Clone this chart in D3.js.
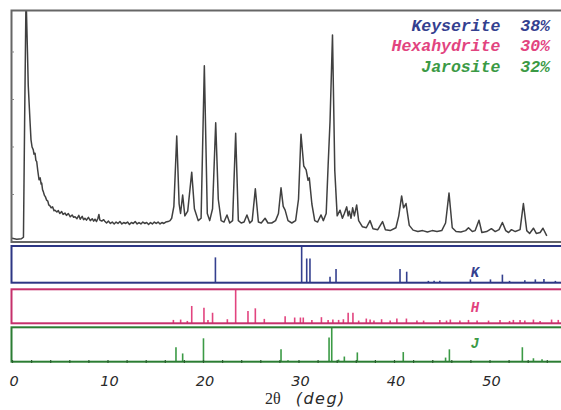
<html>
<head>
<meta charset="utf-8">
<style>
  body { margin: 0; background: #fff; }
  svg { display: block; }
</style>
</head>
<body>
<div id="chartContainer"></div>
<script src="https://cdn.jsdelivr.net/npm/d3@7"></script>
<script type="text/javascript">

// measured pattern (2theta in deg, intensity in arbitrary units)
var patternX = [
  0.0, 0.5, 1.0, 1.2, 1.32, 1.47, 1.62, 1.7, 1.88, 1.99, 2.1, 2.23, 2.3, 2.41, 2.5, 2.59, 2.7, 2.83, 2.95, 3.05,
  3.11, 3.2, 3.28, 3.4, 3.5, 3.63, 3.75, 3.85, 3.98, 4.1, 4.25, 4.4, 4.5, 4.7, 4.85, 5.0, 5.2, 5.35, 5.55, 5.7,
  5.9, 6.1, 6.3, 6.45, 6.6, 6.8, 7.0, 7.15, 7.35, 7.5, 7.64, 7.8, 8.0, 8.2, 8.4, 8.55, 8.69, 8.85, 9.0, 9.1,
  9.2, 9.4, 9.6, 9.74, 9.9, 10.1, 10.3, 10.5, 10.7, 10.9, 11.1, 11.3, 11.5, 11.7, 11.9, 12.1, 12.3, 12.5, 12.7, 12.9,
  13.1, 13.3, 13.5, 13.7, 13.9, 14.1, 14.3, 14.5, 14.7, 14.9, 15.1, 15.3, 15.5, 15.7, 15.9, 16.1, 16.34, 16.55, 16.72, 16.95,
  17.25, 17.5, 17.65, 17.87, 18.1, 18.4, 18.82, 19.1, 19.5, 19.8, 20.14, 20.45, 20.7, 21.0, 21.33, 21.6, 21.9, 22.2, 22.51, 22.8,
  23.1, 23.42, 23.7, 24.0, 24.3, 24.6, 24.9, 25.15, 25.48, 25.8, 26.1, 26.5, 26.8, 27.2, 27.6, 27.9, 28.17, 28.4, 28.6, 28.9,
  29.3, 29.7, 30.0, 30.26, 30.55, 30.8, 31.0, 31.13, 31.4, 31.7, 32.0, 32.36, 32.6, 32.9, 33.1, 33.3, 33.56, 33.8, 34.05, 34.35,
  34.6, 34.8, 35.05, 35.2, 35.32, 35.5, 35.67, 35.85, 36.09, 36.3, 36.7, 37.1, 37.49, 37.8, 38.3, 38.8, 39.1, 39.6, 40.2, 40.5,
  40.8, 41.0, 41.26, 41.6, 42.0, 42.5, 43.0, 43.5, 44.0, 44.5, 45.0, 45.4, 45.76, 46.1, 46.5, 47.0, 47.5, 47.8, 48.2, 48.5,
  48.9, 49.2, 49.7, 50.2, 50.6, 51.0, 51.35, 51.7, 52.0, 52.3, 52.7, 53.2, 53.55, 53.9, 54.2, 54.6, 54.9, 55.3, 55.6, 56.0
];
var patternY = [
  0.08, 0.06, 0.07, 0.10, 2.5, 5.2, 4.0, 3.3, 2.57, 2.15, 2.0, 1.94, 1.85, 1.87, 1.72, 1.69, 1.5, 1.31, 1.35, 1.22,
  1.24, 1.1, 1.06, 0.98, 0.95, 0.88, 0.86, 0.78, 0.76, 0.72, 0.74, 0.66, 0.67, 0.63, 0.66, 0.6, 0.64, 0.58, 0.61, 0.56,
  0.6, 0.53, 0.57, 0.52, 0.53, 0.49, 0.56, 0.48, 0.54, 0.47, 0.50, 0.46, 0.52, 0.45, 0.49, 0.44, 0.48, 0.43, 0.50, 0.58,
  0.46, 0.44, 0.47, 0.43, 0.40, 0.44, 0.39, 0.42, 0.38, 0.42, 0.39, 0.43, 0.38, 0.41, 0.39, 0.42, 0.37, 0.41, 0.39, 0.43,
  0.38, 0.41, 0.38, 0.42, 0.39, 0.41, 0.37, 0.41, 0.38, 0.42, 0.39, 0.42, 0.38, 0.41, 0.39, 0.42, 0.43, 0.45, 0.5, 0.75,
  2.23, 0.8, 0.6, 0.99, 0.55, 0.65, 1.47, 0.7, 0.45, 0.5, 3.71, 0.6, 0.45, 0.7, 2.51, 0.9, 0.45, 0.42, 0.57, 0.4,
  0.45, 2.29, 0.45, 0.4, 0.42, 0.57, 0.4, 0.45, 1.12, 0.42, 0.4, 0.5, 0.4, 0.4, 0.45, 0.6, 1.14, 0.75, 0.67, 0.45,
  0.4, 0.45, 0.9, 2.27, 1.6, 1.52, 1.3, 1.35, 0.8, 0.45, 0.42, 0.57, 0.45, 0.6, 1.6, 2.53, 4.36, 1.5, 0.55, 0.67,
  0.5, 0.6, 0.74, 0.55, 0.65, 0.5, 0.72, 0.55, 0.78, 0.45, 0.32, 0.3, 0.45, 0.28, 0.26, 0.43, 0.26, 0.24, 0.3, 0.55,
  0.97, 0.72, 0.81, 0.35, 0.25, 0.22, 0.24, 0.21, 0.24, 0.22, 0.24, 0.4, 1.03, 0.3, 0.22, 0.21, 0.24, 0.3, 0.22, 0.24,
  0.46, 0.2, 0.22, 0.28, 0.22, 0.26, 0.41, 0.24, 0.2, 0.26, 0.22, 0.26, 0.81, 0.24, 0.18, 0.29, 0.18, 0.2, 0.29, 0.13
];

// reference stick patterns (relative intensity 0..1)
var kieseritePos = [21.3, 30.33, 30.86, 31.2, 33.3, 33.93, 40.63, 41.33, 43.6, 44.2, 44.8, 48.0, 50.1, 51.35, 52.1, 53.7, 54.8, 55.7, 56.9];
var kieseriteInt = [0.69, 1.0, 0.66, 0.66, 0.16, 0.37, 0.37, 0.30, 0.05, 0.05, 0.05, 0.09, 0.09, 0.22, 0.05, 0.07, 0.09, 0.1, 0.05];

var hexaPos = [16.9, 17.66, 18.36, 18.82, 20.1, 20.52, 21.0, 22.55, 23.42, 24.71, 25.48, 26.42, 28.6, 29.6, 30.2, 30.5, 31.4, 32.4, 33.1, 33.6,
  34.2, 34.7, 35.2, 35.7, 36.3, 37.1, 37.5, 37.9, 38.7, 39.6, 40.3, 41.3, 42.4, 43.1, 44.8, 45.5, 45.9, 46.9, 47.8, 48.7,
  49.9, 51.1, 52.1, 52.5, 53.2, 53.7, 54.6, 55.3, 56.5, 57.2];
var hexaInt = [0.10, 0.11, 0.07, 0.51, 0.46, 0.10, 0.31, 0.12, 1.0, 0.36, 0.44, 0.13, 0.21, 0.17, 0.17, 0.17, 0.10, 0.18, 0.10, 0.11,
  0.10, 0.12, 0.31, 0.31, 0.08, 0.14, 0.11, 0.08, 0.12, 0.08, 0.14, 0.14, 0.08, 0.08, 0.10, 0.08, 0.11, 0.08, 0.10, 0.08,
  0.08, 0.10, 0.07, 0.10, 0.10, 0.08, 0.11, 0.07, 0.11, 0.10];

var jarositePos = [17.17, 17.87, 20.05, 28.17, 28.9, 33.2, 33.48, 34.2, 34.8, 36.16, 40.97, 44.1, 45.4, 45.8, 53.44, 54.6, 55.5];
var jarositeInt = [0.42, 0.24, 0.68, 0.36, 0.04, 0.7, 1.0, 0.06, 0.15, 0.27, 0.28, 0.03, 0.12, 0.36, 0.42, 0.1, 0.07];

var legendNames = ["Keyserite", "Hexahydrite", "Jarosite"];
var legendShares = ["38%", "30%", "32%"];
var panelLetters = ["K", "H", "J"];
var xTickLabels = [0, 10, 20, 30, 40, 50];

var phaseColors = ["#34408f", "#e2447f", "#3b9a45"];
var frameColors = ["#2d3684", "#c5306b", "#2b7d33"];

var svg = d3.select("#chartContainer").append("svg")
  .attr("width", 561)
  .attr("height", 410);

var x = d3.scaleLinear().domain([0, 60]).range([12, 12 + 60 * 9.55]);
var y = d3.scaleLinear().domain([0, 4.884]).range([242, 10]);

// main pattern panel
svg.append("clipPath").attr("id", "mainClip")
  .append("rect").attr("x", 12).attr("y", 11).attr("width", 600).attr("height", 231);

svg.append("g")
  .attr("clip-path", "url(#mainClip)")
  .append("path")
  .datum(d3.range(patternX.length))
  .attr("fill", "none")
  .attr("stroke", "#404040")
  .attr("stroke-width", 1.5)
  .attr("stroke-linejoin", "round")
  .attr("d", d3.line().x(function(i) { return x(patternX[i]); }).y(function(i) { return y(patternY[i]); }));

svg.append("rect")
  .attr("x", 11.5).attr("y", 10.5)
  .attr("width", 620).attr("height", 231.5)
  .attr("fill", "none")
  .attr("stroke", "#666")
  .attr("stroke-width", 2);

// small intensity ticks on the left side
svg.append("g").selectAll("line")
  .data([1, 2, 3, 4])
  .enter().append("line")
  .attr("x1", 11.5).attr("x2", 14)
  .attr("y1", function(d) { return y(d); })
  .attr("y2", function(d) { return y(d); })
  .attr("stroke", "#888")
  .attr("stroke-width", 1);

// legend
var legend = svg.append("g")
  .style("font-family", "'Liberation Mono', 'DejaVu Sans Mono', monospace")
  .style("font-weight", "bold")
  .style("font-style", "italic")
  .style("font-size", "16.5px");

legend.selectAll("text")
  .data(legendNames)
  .enter().append("text")
  .attr("x", 550)
  .attr("y", function(d, i) { return 30.5 + i * 20.5; })
  .attr("text-anchor", "end")
  .attr("fill", function(d, i) { return phaseColors[i]; })
  .attr("xml:space", "preserve")
  .style("white-space", "pre")
  .text(function(d, i) { return d + "  " + legendShares[i]; });

// stick panels
var panels = [
  { top: 246, bottom: 282.7, pos: kieseritePos, ints: kieseriteInt, labelY: 276.5 },
  { top: 289.3, bottom: 323.3, pos: hexaPos, ints: hexaInt, labelY: 311.5 },
  { top: 327.3, bottom: 361.7, pos: jarositePos, ints: jarositeInt, labelY: 348.3 }
];

panels.forEach(function(p, k) {
  var ys = d3.scaleLinear().domain([0, 1]).range([p.bottom, p.top]);
  var g = svg.append("g");

  g.selectAll("line")
    .data(d3.range(p.pos.length))
    .enter().append("line")
    .attr("x1", function(i) { return x(p.pos[i]); })
    .attr("x2", function(i) { return x(p.pos[i]); })
    .attr("y1", ys(0))
    .attr("y2", function(i) { return ys(p.ints[i]); })
    .attr("stroke", phaseColors[k])
    .attr("stroke-width", 1.6);

  g.append("rect")
    .attr("x", 11.5).attr("y", p.top)
    .attr("width", 620).attr("height", p.bottom - p.top)
    .attr("fill", "none")
    .attr("stroke", frameColors[k])
    .attr("stroke-width", 2);

  g.append("text")
    .attr("x", 475)
    .attr("y", p.labelY)
    .attr("text-anchor", "middle")
    .attr("fill", phaseColors[k])
    .style("font-family", "'Liberation Mono', monospace")
    .style("font-weight", "bold")
    .style("font-style", "italic")
    .style("font-size", "14px")
    .text(panelLetters[k]);
});

// 2theta axis along the bottom panel
var xAxis = d3.axisBottom(x)
  .tickValues(d3.range(0, 60, 2))
  .tickSize(3)
  .tickFormat("");

var axisG = svg.append("g")
  .attr("transform", "translate(0,360)")
  .call(xAxis);
axisG.select(".domain").remove();
axisG.selectAll(".tick line").attr("stroke", "#2b5e2f").attr("stroke-width", 1.2);

svg.append("g").selectAll("text")
  .data(xTickLabels)
  .enter().append("text")
  .attr("x", function(d) { return x(d) + 2; })
  .attr("y", 386)
  .attr("text-anchor", "middle")
  .attr("fill", "#2a2a2a")
  .style("font-family", "'DejaVu Sans', Verdana, sans-serif")
  .style("font-style", "italic")
  .style("font-size", "14.5px")
  .text(function(d) { return d; });

// axis title
var title = svg.append("text")
  .attr("x", 265)
  .attr("y", 404)
  .attr("fill", "#2a2a2a")
  .style("font-size", "16px");
title.append("tspan")
  .style("font-family", "'Liberation Serif', serif")
  .text("2\u03b8");
title.append("tspan")
  .attr("dx", 15)
  .style("font-family", "'DejaVu Sans', sans-serif")
  .style("font-style", "italic")
  .style("letter-spacing", "1.5px")
  .text("(deg)");

</script>
</body>
</html>
